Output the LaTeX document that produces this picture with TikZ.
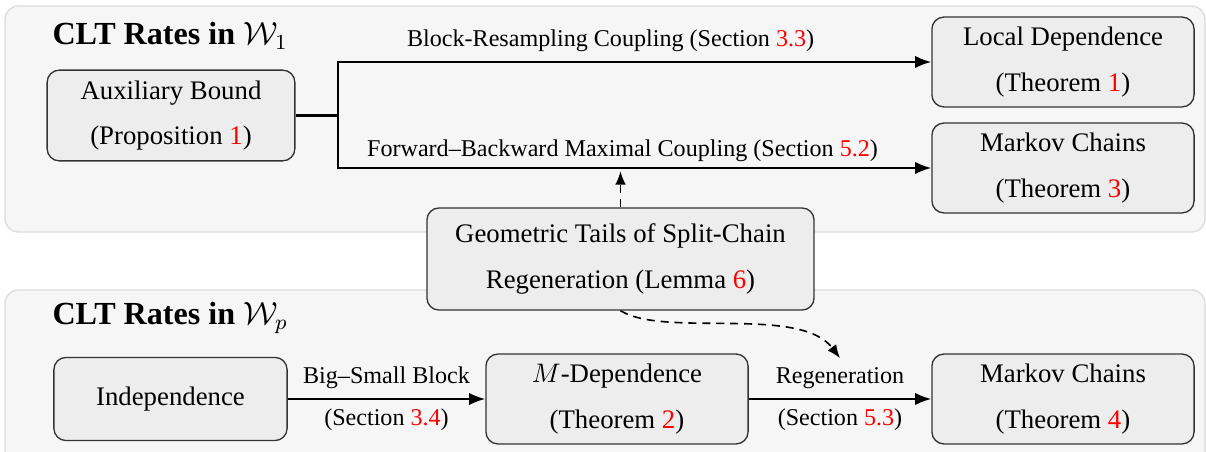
\documentclass[tikz,border=0pt]{standalone}
\usepackage{fontspec}
\setmainfont{Liberation Serif}
\usetikzlibrary{arrows.meta,positioning,calc}
\definecolor{clPanel}{HTML}{F6F6F6}
\definecolor{clPanelLine}{HTML}{DCDCDC}
\definecolor{clBox}{HTML}{EDEDED}
\definecolor{clRef}{HTML}{FF0000}
\newcommand{\refnum}[1]{\textcolor{clRef}{#1}}
\tikzset{
  panel/.style={draw=clPanelLine, fill=clPanel, rounded corners=5pt, line width=0.5pt},
  result/.style={
    draw=black!80, fill=clBox, rounded corners=4.5pt, line width=0.5pt,
    align=center, inner sep=2pt, font=\fontsize{10pt}{17pt}\selectfont
  },
  wide/.style={minimum width=3.44cm, minimum height=1.18cm},
  paneltitle/.style={anchor=base west, inner sep=0pt, font=\fontsize{12pt}{14pt}\selectfont\bfseries},
  tag/.style={font=\small, inner sep=3.3pt},
  link/.style={line width=0.75pt},
  implies/.style={link, -{Latex[length=6pt, width=4.6pt]}},
  hint/.style={line width=0.6pt, dash pattern=on 3pt off 2.2pt, -{Latex[length=5pt, width=4pt]}}
}

\begin{document}
\begin{tikzpicture}[x=0.01312cm, y=-0.01312cm]
  \useasboundingbox (0,0) rectangle (1206,452);
  \fill[white] (0,0) rectangle (1206,452);

  % the two groups
  \draw[panel] (5,6) rectangle (1205,232);
  \draw[panel] (5,290) rectangle (1205,480);
  \node[paneltitle] (titleone) at (52,45) {CLT Rates in $\mathcal{W}_1$};
  \node[paneltitle] (titlep) at (52,325) {CLT Rates in $\mathcal{W}_p$};

  % results
  \node[result, minimum width=3.25cm, minimum height=1.19cm] (aux) at (171,115.5) {Auxiliary Bound\\(Proposition \refnum{1})};
  \node[result, wide] (local) at (1063,62) {Local Dependence\\(Theorem \refnum{1})};
  \node[result, wide] (markovone) at (1063,168) {Markov Chains\\(Theorem \refnum{3})};
  \node[result, minimum width=5.08cm, minimum height=1.34cm] (tails) at (620.5,259) {Geometric Tails of Split-Chain\\Regeneration (Lemma \refnum{6})};
  \node[result, minimum width=3.06cm, minimum height=1.09cm] (indep) at (170.5,399) {Independence};
  \node[result, wide] (mdep) at (617,399) {$M$-Dependence\\(Theorem \refnum{2})};
  \node[result, wide] (markovtwo) at (1063,399) {Markov Chains\\(Theorem \refnum{4})};

  % W_1 arrows
  \draw[link] (aux.east) -- ++(42,0) coordinate (fork);
  \draw[implies] (fork) |- (local.west)
    node[tag, above, pos=0.73] (brc) {Block-Resampling Coupling (Section \refnum{3.3})};
  \draw[implies] (fork) |- (markovone.west)
    node[tag, above, pos=0.74, yshift=-1.5pt] (fbc) {Forward--Backward Maximal Coupling (Section \refnum{5.2})};

  % W_p arrows
  \draw[implies] (indep) -- (mdep)
    node[tag, midway, above] (bigsmall) {Big--Small Block}
    node[tag, midway, below] (secbs) {(Section \refnum{3.4})};
  \draw[implies] (mdep) -- (markovtwo)
    node[tag, midway, above] (regen) {Regeneration}
    node[tag, midway, below] (secreg) {(Section \refnum{5.3})};

  % lemma feeds both couplings
  \coordinate (tailtip) at ($(tails.north)+(0,-36)$);
  \draw[hint] (tails.north) -- (tailtip);
  \draw[hint] (tails.south) .. controls (665,338) and (800,305) .. (regen.north);
\end{tikzpicture}
\end{document}
